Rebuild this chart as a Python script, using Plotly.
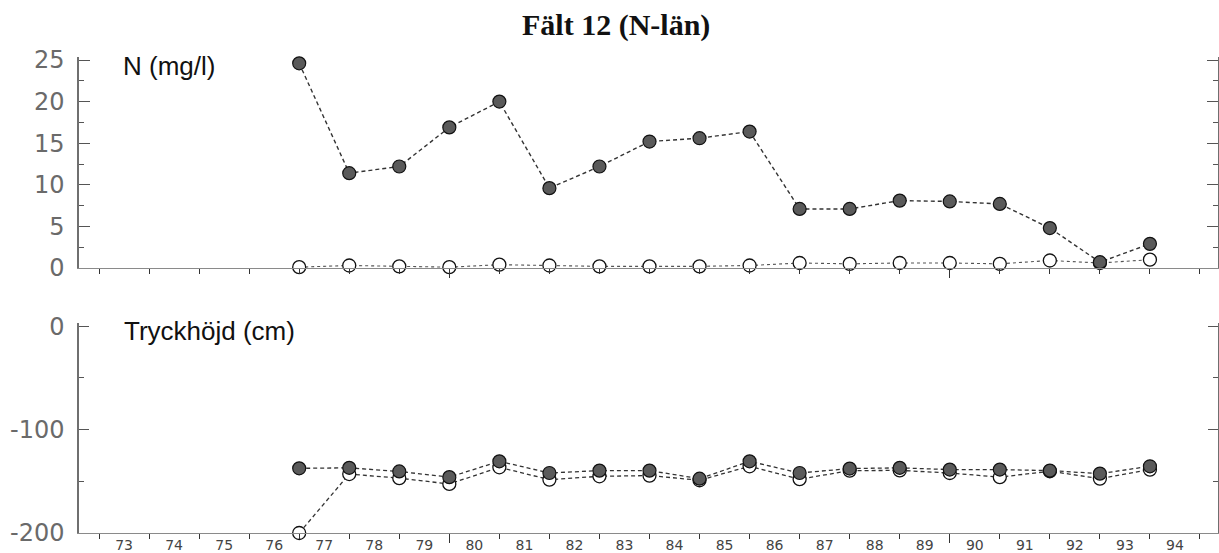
import plotly.graph_objects as go

# Observation years (points sit on the boundary ticks between year labels)
years = list(range(77, 95))

# N concentration (mg/l)
n_filled = [24.6, 11.4, 12.2, 16.9, 20.0, 9.6, 12.2, 15.2, 15.6, 16.4,
            7.1, 7.1, 8.1, 8.0, 7.7, 4.8, 0.7, 2.9]
n_open = [0.1, 0.3, 0.2, 0.1, 0.4, 0.3, 0.2, 0.2, 0.2, 0.3,
          0.6, 0.5, 0.6, 0.6, 0.5, 0.9, 0.6, 1.0]

# Pressure head (cm)
p_filled = [-137.5, -137, -140.5, -146, -130.7, -142, -139.7, -139.7, -147.5, -130.7,
            -142, -137.7, -137, -138.7, -138.7, -139.7, -142.6, -135.5]
p_open = [-200, -143, -147, -152.6, -136.5, -148.4, -145.2, -144.5, -149, -135.5,
          -148, -139.7, -139.5, -142, -146, -140.3, -147.4, -138.7]

# Year labels, centred between boundary ticks
label_years = list(range(73, 95))
label_pos = [y + 0.5 for y in label_years]
label_text = [str(y) for y in label_years]

top_ticks = [0, 5, 10, 15, 20, 25]
bot_ticks = [0, -100, -200]
bot_text = ["0", "-100", "-200"]

W, H = 1219, 553


def px_x(p):
    return p / W


def px_y(p):
    return 1 - p / H


X_RANGE = [72.6, 95.36]
XDOM = [px_x(79), px_x(1218)]

fig = go.Figure()

filled_marker = dict(symbol="circle", size=13, color="#5a5a5a",
                     line=dict(color="#111111", width=1.2))
open_marker = dict(symbol="circle", size=13, color="white",
                   line=dict(color="#111111", width=1.3))

# Top panel: N (mg/l)
fig.add_trace(go.Scatter(x=years, y=n_open, xaxis="x", yaxis="y", mode="lines+markers",
                         line=dict(color="#555555", width=1.1, dash="3px,3px"),
                         marker=open_marker, cliponaxis=False, showlegend=False))
fig.add_trace(go.Scatter(x=years, y=n_filled, xaxis="x", yaxis="y", mode="lines+markers",
                         line=dict(color="#333333", width=1.4, dash="4px,3px"),
                         marker=filled_marker, cliponaxis=False, showlegend=False))

# Bottom panel: Tryckhöjd (cm)
fig.add_trace(go.Scatter(x=years, y=p_open, xaxis="x2", yaxis="y2", mode="lines+markers",
                         line=dict(color="#333333", width=1.3, dash="4px,3px"),
                         marker=open_marker, cliponaxis=False, showlegend=False))
fig.add_trace(go.Scatter(x=years, y=p_filled, xaxis="x2", yaxis="y2", mode="lines+markers",
                         line=dict(color="#333333", width=1.3, dash="4px,3px"),
                         marker=filled_marker, cliponaxis=False, showlegend=False))

# Invisible carrier trace for the year-label axis
fig.add_trace(go.Scatter(x=[label_pos[0]], y=[-100], xaxis="x3", yaxis="y2",
                         mode="markers", marker=dict(opacity=0), hoverinfo="skip",
                         showlegend=False))

axis_grey = "#6f6f6f"
tick_font = dict(family="DejaVu Sans", size=24, color="#6a6a6a")

xcommon = dict(range=X_RANGE, domain=XDOM, showgrid=False, zeroline=False,
               showline=True, linecolor="#8a8a8a", linewidth=1.4, automargin=False,
               tickmode="array", tickvals=[80, 90], ticks="outside", ticklen=9,
               tickcolor="#333333", tickwidth=1, showticklabels=False,
               minor=dict(tickmode="array", tickvals=list(range(73, 96)),
                          ticks="outside", ticklen=5, tickcolor="#333333", tickwidth=1))

fig.update_layout(
    width=W, height=H,
    margin=dict(l=0, r=0, t=0, b=0, autoexpand=False),
    paper_bgcolor="white", plot_bgcolor="white",
    xaxis=dict(anchor="y", **xcommon),
    xaxis2=dict(anchor="y2", **xcommon),
    xaxis3=dict(anchor="y2", overlaying="x2", range=X_RANGE, domain=XDOM,
                showgrid=False, zeroline=False, showline=False, automargin=False,
                tickmode="array", tickvals=label_pos, ticktext=label_text,
                ticks="", side="bottom", ticklabelstandoff=2,
                tickfont=dict(family="DejaVu Sans", size=14, color="#444444")),
    yaxis=dict(domain=[px_y(268), px_y(57)], range=[0, 25.36], anchor="x",
               showgrid=False, zeroline=False, showline=True, linecolor=axis_grey,
               linewidth=1.5, mirror="ticks", automargin=False,
               tickmode="array", tickvals=top_ticks, ticks="inside", ticklen=11,
               tickcolor="#555555", tickwidth=1,
               minor=dict(dtick=2.5, ticks="inside", ticklen=5, tickcolor="#555555"),
               tickfont=tick_font, ticklabelstandoff=8),
    yaxis2=dict(domain=[px_y(533), px_y(323)], range=[-200, 3], anchor="x2",
                showgrid=False, zeroline=False, showline=True, linecolor=axis_grey,
                linewidth=1.5, mirror="ticks", automargin=False,
                tickmode="array", tickvals=bot_ticks, ticktext=bot_text,
                ticks="inside", ticklen=10, tickcolor="#555555", tickwidth=1,
                minor=dict(tickmode="array", tickvals=[-50, -150], ticks="inside",
                           ticklen=5, tickcolor="#555555"),
                tickfont=tick_font, ticklabelstandoff=8),
)

fig.add_annotation(text="<b>Fält 12 (N-län)</b>", xref="paper", yref="paper",
                   x=px_x(616), y=px_y(25), xanchor="center", yanchor="middle",
                   showarrow=False,
                   font=dict(family="Liberation Serif", size=30, color="#111111"))
fig.add_annotation(text="N (mg/l)", xref="paper", yref="paper",
                   x=px_x(121), y=px_y(66), xanchor="left", yanchor="middle",
                   showarrow=False,
                   font=dict(family="Liberation Sans", size=26, color="#111111"))
fig.add_annotation(text="Tryckhöjd (cm)", xref="paper", yref="paper",
                   x=px_x(122), y=px_y(331), xanchor="left", yanchor="middle",
                   showarrow=False,
                   font=dict(family="Liberation Sans", size=26, color="#111111"))

fig.write_html("out.html")
